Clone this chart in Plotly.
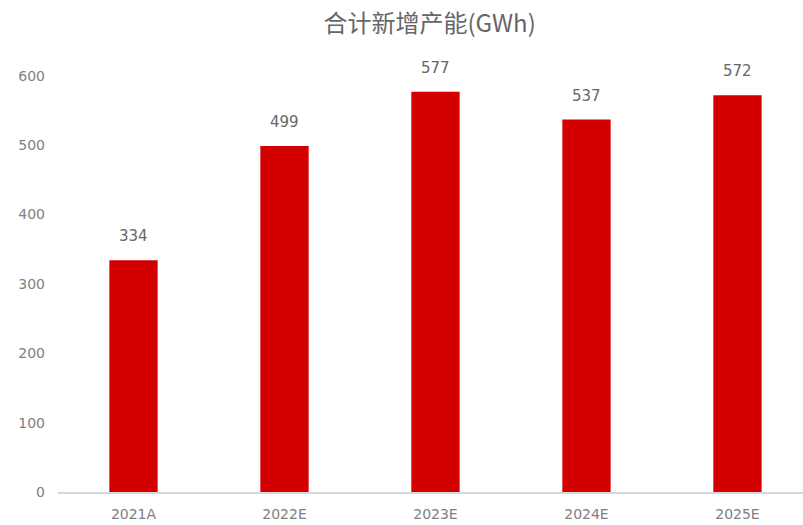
import plotly.graph_objects as go

categories = ["2021A", "2022E", "2023E", "2024E", "2025E"]
values = [334, 499, 577, 537, 572]
title_text = "合计新增产能(GWh)"

fig = go.Figure()
fig.add_trace(go.Bar(
    x=categories, y=values,
    marker=dict(color="#D20000", line=dict(width=0)),
    width=0.32,
))
for c, v in zip(categories, values):
    fig.add_annotation(x=c, y=v, text=str(v), showarrow=False, yshift=24,
                       font=dict(family="DejaVu Sans, sans-serif", size=15, color="#666666"))

fig.update_layout(
    width=803, height=525,
    margin=dict(l=58, r=0, t=62, b=33),
    paper_bgcolor="white", plot_bgcolor="white",
    showlegend=False,
    title=dict(text=title_text, x=0.535, xanchor="center", y=0.955, yanchor="middle",
               font=dict(family="Noto Sans CJK SC, sans-serif", size=24, color="#666666")),
    xaxis=dict(range=[-0.5, 4.434], showline=True, linecolor="#D9D9D9", linewidth=1.5,
               showgrid=False, ticks="", ticklabelstandoff=8,
               tickfont=dict(family="DejaVu Sans, sans-serif", size=14, color="#808080")),
    yaxis=dict(range=[0, 620], tickvals=[0, 100, 200, 300, 400, 500, 600],
               showgrid=False, zeroline=False, showline=False, ticks="",
               ticklabelstandoff=12,
               tickfont=dict(family="DejaVu Sans, sans-serif", size=14, color="#808080")),
)
fig.write_html("out.html")
